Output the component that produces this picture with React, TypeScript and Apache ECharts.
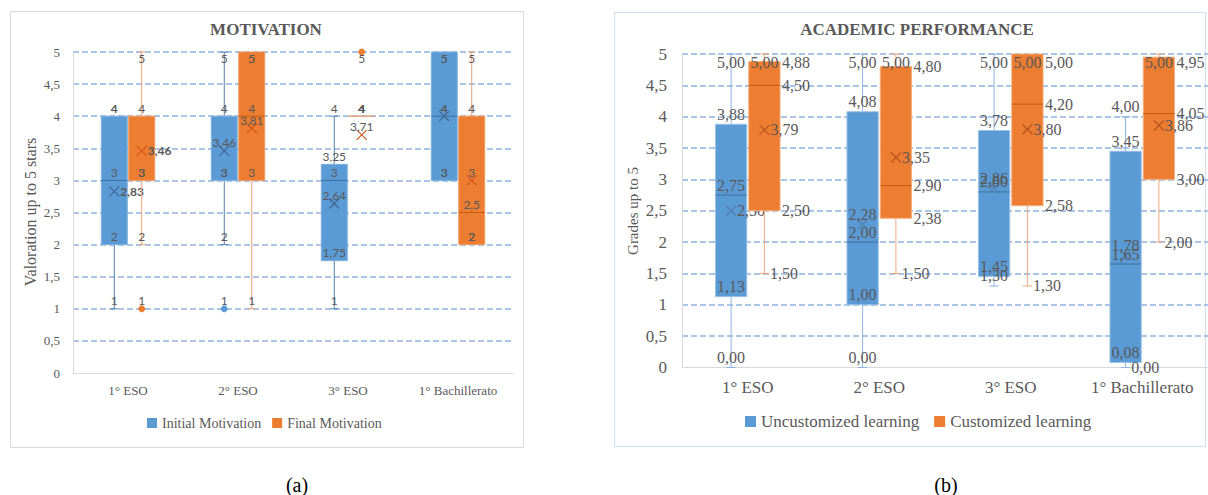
import React, { useEffect, useRef } from 'react';
import * as echarts from 'echarts';

// ---------- DATA ----------
const categories = ['1° ESO', '2° ESO', '3° ESO', '1° Bachillerato'];
const yTickLabels = ['0', '0,5', '1', '1,5', '2', '2,5', '3', '3,5', '4', '4,5', '5'];

// Each row: [min, Q1, median, Q3, max, mean]
const initialMotivation = [
  [1, 2, 3, 4, 4, 2.83],
  [2, 3, 3, 4, 5, 3.46],
  [1, 1.75, 3, 3.25, 4, 2.64],
  [3, 3, 4, 5, 5, 4],
];
const initialMotivationOutliers = [[], [1], [], []];

const finalMotivation = [
  [2, 3, 3, 4, 5, 3.46],
  [1, 3, 4, 5, 5, 3.81],
  [4, 4, 4, 4, 4, 3.71],
  [2, 2, 2.5, 4, 5, 3],
];
const finalMotivationOutliers = [[1], [], [5], []];

const uncustomizedLearning = [
  [0, 1.13, 2.75, 3.88, 5, 2.5],
  [0, 1, 2, 4.08, 5, 2.28],
  [1.3, 1.45, 2.8, 3.78, 5, 2.86],
  [0, 0.08, 1.65, 3.45, 4, 1.78],
];
const customizedLearning = [
  [1.5, 2.5, 4.5, 4.88, 5, 3.79],
  [1.5, 2.38, 2.9, 4.8, 5, 3.35],
  [1.3, 2.58, 4.2, 5, 5, 3.8],
  [2, 3, 4.05, 4.95, 5, 3.86],
];
const noOutliers = [[], [], [], []];

// ---------- STYLE ----------
const SERIF = 'Liberation Serif, serif';
const SANS = 'Lato, sans-serif';
const GRAY = '#595959';
const BLUE = '#5B9BD5';
const ORANGE = '#ED7D31';

type Pos = 'top' | 'right';
type Cfg = {
  side: number;
  fill: string;
  border: string;
  whisker: string;
  median: string;
  meanColor: string;
  boxRatio: number;
  gap: number;
  capRatio: number;
  meanSize: number;
  fontSize: number;
  fontFamily: string;
  labelOffset: number;
  clampOffset: number;
  fmt: (v: number) => string;
  pos: (cat: number, field: number) => Pos;
  bold: (cat: number, field: number) => boolean;
  outliers: number[][];
};

const fmtA = (v: number) => String(v).replace('.', ',');
const fmtB = (v: number) => v.toFixed(2).replace('.', ',');

function makeRender(cfg: Cfg) {
  return (params: any, api: any) => {
    const cat = api.value(0);
    const vals = [1, 2, 3, 4, 5, 6].map((i) => api.value(i));
    const [mn, q1, med, q3, mx, mean] = vals;
    const base = api.coord([cat, 0]);
    const band = api.size([1, 0])[0];
    const bw = band * cfg.boxRatio;
    const cx = base[0] + cfg.side * (bw / 2 + cfg.gap / 2);
    const Y = (v: number) => api.coord([cat, v])[1];
    const top = params.coordSys.y;
    const cap = bw * cfg.capRatio;
    const children: any[] = [];

    if (mx > q3) {
      children.push({ type: 'line', shape: { x1: cx, y1: Y(q3), x2: cx, y2: Y(mx) }, style: { stroke: cfg.whisker, lineWidth: 1 } });
      children.push({ type: 'line', shape: { x1: cx - cap / 2, y1: Y(mx), x2: cx + cap / 2, y2: Y(mx) }, style: { stroke: cfg.whisker, lineWidth: 1 } });
    }
    if (mn < q1) {
      children.push({ type: 'line', shape: { x1: cx, y1: Y(q1), x2: cx, y2: Y(mn) }, style: { stroke: cfg.whisker, lineWidth: 1 } });
      children.push({ type: 'line', shape: { x1: cx - cap / 2, y1: Y(mn), x2: cx + cap / 2, y2: Y(mn) }, style: { stroke: cfg.whisker, lineWidth: 1 } });
    }
    const yTop = Y(q3);
    const yBot = Y(q1);
    if (yBot - yTop > 0.5) {
      children.push({ type: 'rect', shape: { x: cx - bw / 2, y: yTop, width: bw, height: yBot - yTop }, style: { fill: cfg.fill, stroke: cfg.border, lineWidth: 1 } });
    } else {
      children.push({ type: 'line', shape: { x1: cx - bw / 2, y1: yTop, x2: cx + bw / 2, y2: yTop }, style: { stroke: cfg.whisker, lineWidth: 1.5 } });
    }
    if (med > q1 && med < q3) {
      children.push({ type: 'line', shape: { x1: cx - bw / 2, y1: Y(med), x2: cx + bw / 2, y2: Y(med) }, style: { stroke: cfg.median, lineWidth: 1 } });
    }
    const outs = cfg.outliers[cat] || [];
    outs.forEach((o) => {
      children.push({ type: 'circle', shape: { cx, cy: Y(o), r: 3 }, style: { fill: cfg.fill, stroke: cfg.fill } });
    });
    const ms = cfg.meanSize / 2;
    const my = Y(mean);
    children.push({ type: 'line', shape: { x1: cx - ms, y1: my - ms, x2: cx + ms, y2: my + ms }, style: { stroke: cfg.meanColor, lineWidth: 1.2 } });
    children.push({ type: 'line', shape: { x1: cx - ms, y1: my + ms, x2: cx + ms, y2: my - ms }, style: { stroke: cfg.meanColor, lineWidth: 1.2 } });

    const addLabel = (v: number, field: number) => {
      const p = cfg.pos(cat, field);
      let x: number;
      let y: number;
      let align: string;
      if (p === 'top') {
        x = cx;
        y = Y(v) - cfg.labelOffset;
        align = 'center';
      } else {
        if (field === 5) x = cx + ms + 1;
        else if (field === 0 || field === 4 || field === 6) x = cx + cap / 2 + 1;
        else x = cx + bw / 2 + 2;
        y = Y(v);
        align = 'left';
      }
      if (y < top + cfg.clampOffset) y = top + cfg.clampOffset;
      const weight = cfg.bold(cat, field) ? 'bold' : 'normal';
      children.push({
        type: 'text',
        style: {
          text: cfg.fmt(v),
          x,
          y,
          fill: GRAY,
          font: `${weight} ${cfg.fontSize}px ${cfg.fontFamily}`,
          align,
          verticalAlign: 'middle',
          textAlign: align,
          textVerticalAlign: 'middle',
        },
      });
    };
    vals.forEach((v, i) => addLabel(v, i));
    outs.forEach((o) => addLabel(o, 6));

    return { type: 'group', children };
  };
}

const toData = (rows: number[][]) => rows.map((r, i) => [i, ...r]);

const cfgA = {
  boxRatio: 0.236,
  gap: 1.5,
  capRatio: 0.28,
  meanSize: 10,
  fontSize: 12,
  fontFamily: SANS,
  labelOffset: 8,
  clampOffset: 6,
  fmt: fmtA,
  pos: (cat: number, field: number): Pos => (cat === 0 && field === 5 ? 'right' : 'top'),
  bold: (cat: number, field: number) => cat === 0 && field === 5,
};
const cfgB = {
  boxRatio: 0.238,
  gap: 2,
  capRatio: 0.3,
  meanSize: 10,
  fontSize: 16,
  fontFamily: SERIF,
  labelOffset: 10,
  clampOffset: 8,
  fmt: fmtB,
  bold: () => false,
  outliers: noOutliers,
};

const centered = { align: 'center', verticalAlign: 'middle', textAlign: 'center', textVerticalAlign: 'middle' };

export default function App() {
  const ref = useRef<HTMLDivElement>(null);
  useEffect(() => {
    if (!ref.current) return;
    const chart = echarts.init(ref.current, undefined, { renderer: 'svg' });

    const xAxisBase = (gridIndex: number, fontSize: number) => ({
      type: 'category',
      gridIndex,
      data: categories,
      boundaryGap: true,
      axisTick: { show: false },
      axisLine: { lineStyle: { color: '#D9D9D9', width: 1 } },
      axisLabel: { color: GRAY, fontFamily: SERIF, fontSize, margin: 11, interval: 0 },
      splitLine: { show: false },
    });
    const yAxisBase = (gridIndex: number, fontSize: number, margin: number, gridColor: string) => ({
      type: 'value',
      gridIndex,
      min: 0,
      max: 5,
      interval: 0.5,
      axisLine: { show: true, lineStyle: { color: '#D9D9D9', width: 1 } },
      axisTick: { show: false },
      axisLabel: {
        color: GRAY,
        fontFamily: SERIF,
        fontSize,
        margin,
        formatter: (v: number) => yTickLabels[Math.round(v / 0.5)],
      },
      splitLine: { show: true, showMinLine: false, lineStyle: { color: gridColor, type: [6, 3], width: 1.5 } },
    });

    const option: any = {
      animation: false,
      grid: [
        { left: 73, top: 52, width: 440, height: 321 },
        { left: 682, top: 54, width: 530, height: 313.5 },
      ],
      xAxis: [xAxisBase(0, 13), xAxisBase(1, 17)],
      yAxis: [yAxisBase(0, 13, 13, '#8DB4E2'), yAxisBase(1, 17, 15, '#8DB4E2')],
      legend: [
        {
          data: ['Initial Motivation', 'Final Motivation'],
          left: 147,
          top: 416,
          padding: 0,
          icon: 'rect',
          itemWidth: 10,
          itemHeight: 10,
          itemGap: 11,
          selectedMode: false,
          textStyle: { color: GRAY, fontFamily: SERIF, fontSize: 14 },
        },
        {
          data: ['Uncustomized learning', 'Customized learning'],
          left: 745,
          top: 413,
          padding: 0,
          icon: 'rect',
          itemWidth: 11,
          itemHeight: 11,
          itemGap: 15,
          selectedMode: false,
          textStyle: { color: GRAY, fontFamily: SERIF, fontSize: 17 },
        },
      ],
      graphic: [
        { type: 'rect', shape: { x: 10.5, y: 11.5, width: 513, height: 436 }, style: { fill: 'none', stroke: '#D9D9D9', lineWidth: 1 }, silent: true, z: -10 },
        { type: 'rect', shape: { x: 614.5, y: 12.5, width: 591, height: 434 }, style: { fill: 'none', stroke: '#9DC3E6', lineWidth: 1, lineDash: [1, 1] }, silent: true, z: -10 },
        { type: 'text', x: 266, y: 29, style: { text: 'MOTIVATION', fill: GRAY, font: `bold 17px ${SERIF}`, ...centered } },
        { type: 'text', x: 917, y: 29, style: { text: 'ACADEMIC PERFORMANCE', fill: GRAY, font: `bold 17px ${SERIF}`, ...centered } },
        { type: 'text', x: 30, y: 212, rotation: Math.PI / 2, style: { text: 'Valoration up to 5 stars', fill: GRAY, font: `16px ${SERIF}`, ...centered } },
        { type: 'text', x: 633, y: 211, rotation: Math.PI / 2, style: { text: 'Grades up to 5', fill: GRAY, font: `15px ${SERIF}`, ...centered } },
        { type: 'text', x: 297, y: 485, style: { text: '(a)', fill: '#000', font: `20px ${SERIF}`, ...centered } },
        { type: 'text', x: 946, y: 485, style: { text: '(b)', fill: '#000', font: `20px ${SERIF}`, ...centered } },
      ],
      series: [
        {
          type: 'custom',
          name: 'Initial Motivation',
          xAxisIndex: 0,
          yAxisIndex: 0,
          itemStyle: { color: BLUE },
          encode: { x: 0, y: [1, 2, 3, 4, 5, 6] },
          data: toData(initialMotivation),
          renderItem: makeRender({
            ...cfgA,
            side: -1,
            fill: BLUE,
            border: '#7FB0DE',
            whisker: '#5580B0',
            median: '#41719C',
            meanColor: '#3F6690',
            outliers: initialMotivationOutliers,
          } as Cfg),
        },
        {
          type: 'custom',
          name: 'Final Motivation',
          xAxisIndex: 0,
          yAxisIndex: 0,
          itemStyle: { color: ORANGE },
          encode: { x: 0, y: [1, 2, 3, 4, 5, 6] },
          data: toData(finalMotivation),
          renderItem: makeRender({
            ...cfgA,
            side: 1,
            fill: ORANGE,
            border: '#F29A60',
            whisker: '#E9A27A',
            median: '#C55A11',
            meanColor: '#D0561B',
            outliers: finalMotivationOutliers,
          } as Cfg),
        },
        {
          type: 'custom',
          name: 'Uncustomized learning',
          xAxisIndex: 1,
          yAxisIndex: 1,
          itemStyle: { color: BLUE },
          encode: { x: 0, y: [1, 2, 3, 4, 5, 6] },
          data: toData(uncustomizedLearning),
          renderItem: makeRender({
            ...cfgB,
            side: -1,
            fill: BLUE,
            border: '#9DC3E6',
            whisker: '#8FB4DE',
            median: '#41719C',
            meanColor: '#4F7FB3',
            pos: (cat: number, field: number): Pos =>
              (cat === 0 && field === 5) || (cat === 3 && field === 0) ? 'right' : 'top',
          } as Cfg),
        },
        {
          type: 'custom',
          name: 'Customized learning',
          xAxisIndex: 1,
          yAxisIndex: 1,
          itemStyle: { color: ORANGE },
          encode: { x: 0, y: [1, 2, 3, 4, 5, 6] },
          data: toData(customizedLearning),
          renderItem: makeRender({
            ...cfgB,
            side: 1,
            fill: ORANGE,
            border: '#F4B183',
            whisker: '#F0A680',
            median: '#C55A11',
            meanColor: '#B5541E',
            pos: (_cat: number, field: number): Pos => (field === 4 ? 'top' : 'right'),
          } as Cfg),
        },
      ],
    };
    chart.setOption(option);
    return () => chart.dispose();
  }, []);

  return (
    <div
      ref={ref}
      style={{ position: 'absolute', left: 0, top: 0, width: 1208, height: 495, background: '#fff' }}
    />
  );
}
